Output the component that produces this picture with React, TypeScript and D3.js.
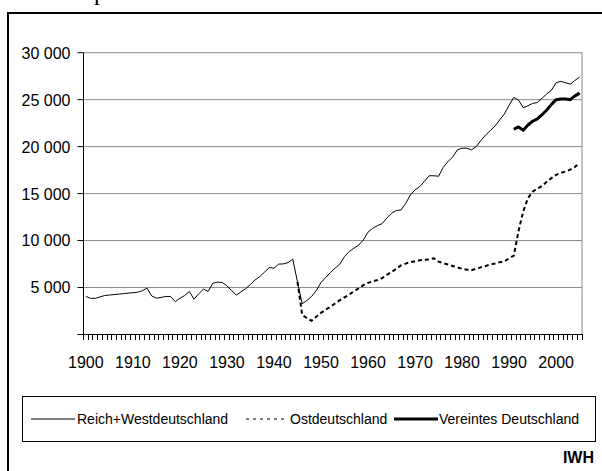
import React from "react";
import * as d3 from "d3";

const years: number[] = d3.range(1900, 2006);
const xTickLabels: number[] = [1900, 1910, 1920, 1930, 1940, 1950, 1960, 1970, 1980, 1990, 2000];
const yTicks: number[] = [0, 5000, 10000, 15000, 20000, 25000, 30000];

const westStart = 1900;
const westValues: number[] = [
  4050, 3850, 3850, 4000, 4150, 4200, 4250, 4300, 4350, 4400,
  4450, 4500, 4650, 4950, 4100, 3870, 3950, 4050, 4050, 3500,
  3850, 4150, 4580, 3760, 4330, 4830, 4580, 5460, 5570, 5540,
  5180, 4680, 4190, 4540, 4900, 5320, 5820, 6170, 6640, 7130,
  7060, 7490, 7520, 7660, 8020, 5600, 3270, 3620, 4050, 4680,
  5530, 6070, 6600, 7060, 7490, 8300, 8830, 9190, 9510, 10070,
  10900, 11300, 11600, 11800, 12400, 12900, 13200, 13250, 13950, 14850,
  15400, 15750, 16300, 16900, 16900, 16850, 17800, 18400, 18900, 19650,
  19830, 19830, 19650, 20000, 20640, 21240, 21700, 22200, 22840, 23480,
  24400, 25250, 24950, 24150, 24350, 24600, 24700, 25150, 25600, 26000,
  26800, 26950, 26800, 26650, 27050, 27400,
];

const ostStart = 1945;
const ostValues: number[] = [
  5600, 2090, 1740, 1450, 1900, 2300, 2650, 2950, 3300, 3650,
  3950, 4250, 4600, 4900, 5250, 5500, 5650, 5800, 6000, 6350,
  6650, 7000, 7350, 7550, 7700, 7800, 7900, 7950, 8000, 8120,
  7750, 7600, 7450, 7300, 7150, 7000, 6900, 6850, 7000, 7150,
  7300, 7450, 7550, 7700, 7800, 8100, 8400, 11000, 13100, 14500,
  15200, 15550, 15800, 16250, 16650, 17000, 17200, 17350, 17550, 17850,
  18250,
];

const vereintStart = 1991;
const vereintValues: number[] = [
  21850, 22100, 21750, 22300, 22700, 22950, 23400, 23900, 24500, 25000,
  25080, 25070, 25000, 25400, 25700,
];

const seriesNames: string[] = ["Reich+Westdeutschland", "Ostdeutschland", "Vereintes Deutschland"];

const fmt = (v: number) => d3.format(",")(v).replace(/,/g, " ");

export default function App() {
  const W = 602, H = 471;
  const left = 83.5, right = 582, top = 52.7, bottom = 334.5;
  const x = d3.scaleBand<number>().domain(years).range([left, right]).padding(0);
  const y = d3.scaleLinear().domain([0, 30000]).range([bottom, top]);
  const cx = (yr: number) => (x(yr) as number) + x.bandwidth() / 2;

  const toPts = (start: number, vals: number[]) => vals.map((v, i) => ({ yr: start + i, v }));
  const line = d3.line<{ yr: number; v: number }>().x((d) => cx(d.yr)).y((d) => y(d.v));

  const font = "'Liberation Sans', Arial, sans-serif";
  const axisFs = 16;
  const boundaries = [...years.map((yr) => x(yr) as number), right].map((b) => Math.round(b - 0.5) + 0.5);
  const tp = d3.path();
  boundaries.forEach((bx) => {
    tp.moveTo(bx, bottom - 0.5);
    tp.lineTo(bx, bottom + 5.5);
  });

  const legY = 419;

  return (
    <svg width={W} height={H} style={{ position: "absolute", left: 0, top: 0, background: "#fff" }}>
      <rect x={0} y={0} width={W} height={H} fill="#fff" />
      <text x={94} y={0} fontFamily="'Liberation Serif', 'Times New Roman', serif" fontSize={24} fill="#000">p</text>
      {/* outer frame */}
      <rect x={8} y={13} width={700} height={600} fill="none" stroke="#000" strokeWidth={2} />

      {/* gridlines */}
      {yTicks.filter((t) => t > 0).map((t) => (
        <line key={"g" + t} x1={left} x2={right} y1={y(t)} y2={y(t)} stroke="#8a8a8a" strokeWidth={1} />
      ))}
      <line x1={right} x2={right} y1={top} y2={bottom} stroke="#8a8a8a" strokeWidth={1} />

      {/* x ticks */}
      <path d={tp.toString()} fill="none" stroke="#000" strokeWidth={1} />

      {/* axes */}
      <line x1={left} x2={left} y1={top} y2={bottom} stroke="#000" strokeWidth={1} />
      <line x1={left} x2={right} y1={bottom} y2={bottom} stroke="#000" strokeWidth={1} />
      {yTicks.map((t) => (
        <g key={"yt" + t}>
          <line x1={left - 6} x2={left} y1={y(t)} y2={y(t)} stroke="#000" strokeWidth={1} />
          {t > 0 && (
            <text x={70.5} y={y(t)} dy="0.37em" textAnchor="end" fontFamily={font} fontSize={axisFs} fill="#000">
              {fmt(t)}
            </text>
          )}
        </g>
      ))}
      {xTickLabels.map((yr) => (
        <text key={"xl" + yr} x={cx(yr)} y={368} textAnchor="middle" fontFamily={font} fontSize={axisFs} fill="#000">
          {yr}
        </text>
      ))}

      {/* series */}
      <path d={line(toPts(ostStart, ostValues)) || ""} fill="none" stroke="#000" strokeWidth={2} strokeDasharray="4,3" />
      <path d={line(toPts(westStart, westValues)) || ""} fill="none" stroke="#000" strokeWidth={1} />
      <path d={line(toPts(vereintStart, vereintValues)) || ""} fill="none" stroke="#000" strokeWidth={3} strokeLinejoin="round" />

      {/* legend */}
      <rect x={22.5} y={396.5} width={573} height={45} fill="#fff" stroke="#000" strokeWidth={1} />
      <line x1={31} x2={75} y1={legY} y2={legY} stroke="#000" strokeWidth={1} />
      <text x={77} y={legY} dy="0.36em" fontFamily={font} fontSize={14} fill="#000">{seriesNames[0]}</text>
      <line x1={246} x2={286} y1={legY} y2={legY} stroke="#000" strokeWidth={1} strokeDasharray="3,4" />
      <text x={290} y={legY} dy="0.36em" fontFamily={font} fontSize={14} fill="#000">{seriesNames[1]}</text>
      <line x1={394} x2={438} y1={legY} y2={legY} stroke="#000" strokeWidth={3} />
      <text x={439} y={legY} dy="0.36em" fontFamily={font} fontSize={14} fill="#000">{seriesNames[2]}</text>

      <text x={594} y={463} textAnchor="end" fontFamily={font} fontSize={16} fontWeight="bold" fill="#000">IWH</text>
    </svg>
  );
}
